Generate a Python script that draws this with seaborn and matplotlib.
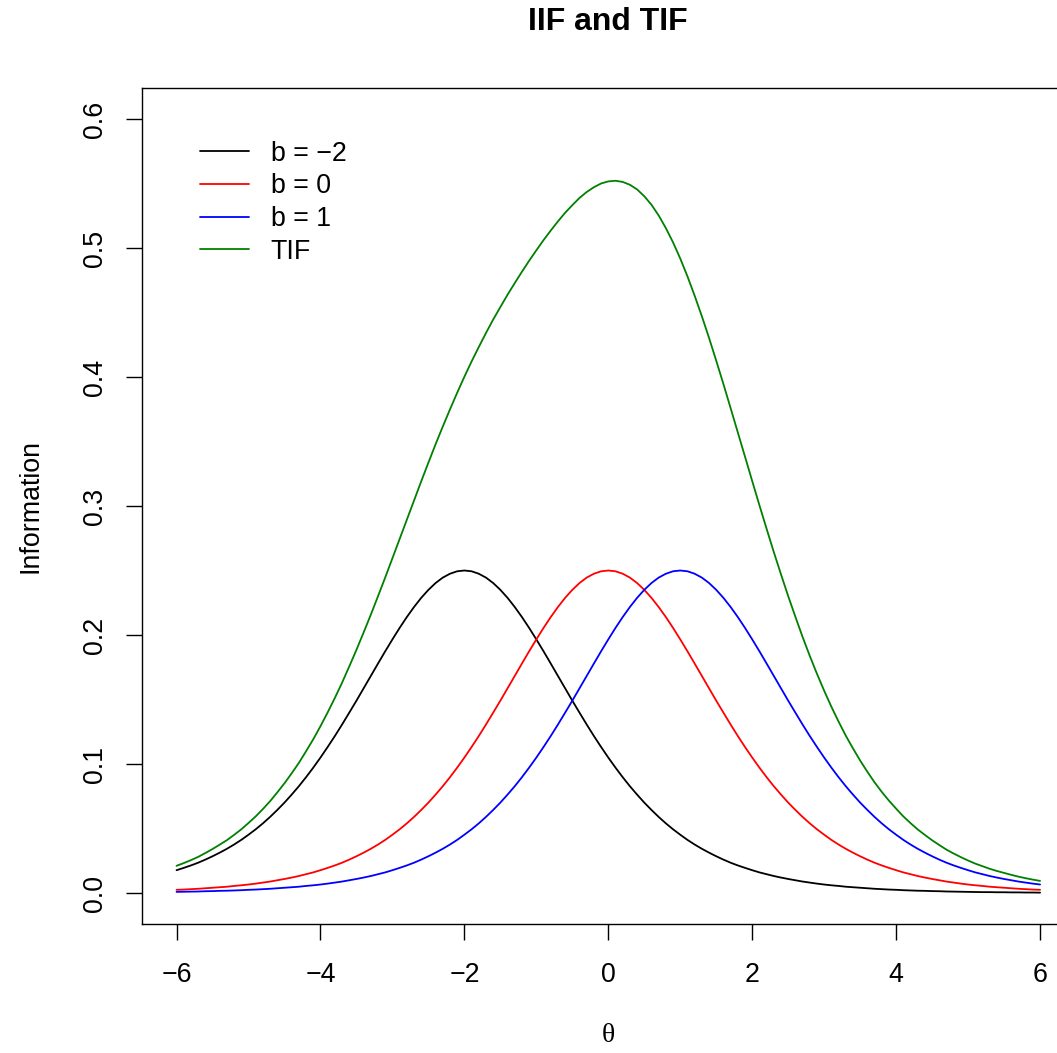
#!/usr/bin/env python3
# Item and test information functions (Rasch items b = -2, 0, 1)

import matplotlib
matplotlib.use("Agg")
import matplotlib.pyplot as plt
import seaborn as sns
import numpy as np
import pandas as pd

# theta grid, -6 to 6 in steps of 0.1
theta = np.round(np.linspace(-6, 6, 121), 1)

info_bm2 = [
    .0177, .0195, .0214, .0235, .0259, .0285, .0313, .0343, .0376, .0412,
    .0452, .0494, .0540, .0590, .0644, .0701, .0763, .0828, .0898, .0972,
    .1050, .1132, .1217, .1306, .1398, .1491, .1587, .1683, .1779, .1874,
    .1966, .2055, .2139, .2217, .2288, .2350, .2403, .2445, .2475, .2494,
    .2500,
    .2494, .2475, .2445, .2403, .2350, .2288, .2217, .2139, .2055, .1966,
    .1874, .1779, .1683, .1587, .1491, .1398, .1306, .1217, .1132, .1050,
    .0972, .0898, .0828, .0763, .0701, .0644, .0590, .0540, .0494, .0452,
    .0412, .0376, .0343, .0313, .0285, .0259, .0235, .0214, .0195, .0177,
    .0160, .0146, .0132, .0120, .0109, .0099, .0089, .0081, .0073, .0066,
    .0060, .0055, .0049, .0045, .0041, .0037, .0033, .0030, .0027, .0025,
    .0022, .0020, .0018, .0017, .0015, .0014, .0012, .0011, .0010, .0009,
    .0008, .0007, .0007, .0006, .0006, .0005, .0005, .0004, .0004, .0003]

info_b0 = [
    .0025, .0027, .0030, .0033, .0037, .0041, .0045, .0049, .0055, .0060,
    .0066, .0073, .0081, .0089, .0099, .0109, .0120, .0132, .0146, .0160,
    .0177, .0195, .0214, .0235, .0259, .0285, .0313, .0343, .0376, .0412,
    .0452, .0494, .0540, .0590, .0644, .0701, .0763, .0828, .0898, .0972,
    .1050, .1132, .1217, .1306, .1398, .1491, .1587, .1683, .1779, .1874,
    .1966, .2055, .2139, .2217, .2288, .2350, .2403, .2445, .2475, .2494,
    .2500,
    .2494, .2475, .2445, .2403, .2350, .2288, .2217, .2139, .2055, .1966,
    .1874, .1779, .1683, .1587, .1491, .1398, .1306, .1217, .1132, .1050,
    .0972, .0898, .0828, .0763, .0701, .0644, .0590, .0540, .0494, .0452,
    .0412, .0376, .0343, .0313, .0285, .0259, .0235, .0214, .0195, .0177,
    .0160, .0146, .0132, .0120, .0109, .0099, .0089, .0081, .0073, .0066,
    .0060, .0055, .0049, .0045, .0041, .0037, .0033, .0030, .0027, .0025]

info_b1 = [
    .0009, .0010, .0011, .0012, .0014, .0015, .0017, .0018, .0020, .0022,
    .0025, .0027, .0030, .0033, .0037, .0041, .0045, .0049, .0055, .0060,
    .0066, .0073, .0081, .0089, .0099, .0109, .0120, .0132, .0146, .0160,
    .0177, .0195, .0214, .0235, .0259, .0285, .0313, .0343, .0376, .0412,
    .0452, .0494, .0540, .0590, .0644, .0701, .0763, .0828, .0898, .0972,
    .1050, .1132, .1217, .1306, .1398, .1491, .1587, .1683, .1779, .1874,
    .1966, .2055, .2139, .2217, .2288, .2350, .2403, .2445, .2475, .2494,
    .2500,
    .2494, .2475, .2445, .2403, .2350, .2288, .2217, .2139, .2055, .1966,
    .1874, .1779, .1683, .1587, .1491, .1398, .1306, .1217, .1132, .1050,
    .0972, .0898, .0828, .0763, .0701, .0644, .0590, .0540, .0494, .0452,
    .0412, .0376, .0343, .0313, .0285, .0259, .0235, .0214, .0195, .0177,
    .0160, .0146, .0132, .0120, .0109, .0099, .0089, .0081, .0073, .0066]

info_tif = [
    .0211, .0232, .0255, .0280, .0310, .0341, .0375, .0410, .0451, .0494,
    .0543, .0594, .0651, .0712, .0780, .0851, .0928, .1009, .1099, .1192,
    .1293, .1400, .1512, .1630, .1756, .1885, .2020, .2158, .2301, .2446,
    .2595, .2744, .2893, .3042, .3191, .3336, .3479, .3616, .3749, .3878,
    .4002, .4120, .4232, .4341, .4445, .4542, .4638, .4728, .4816, .4901,
    .4982, .5061, .5135, .5206, .5273, .5332, .5388, .5434, .5471, .5500,
    .5516,
    .5521, .5512, .5490, .5454, .5401, .5335, .5252, .5154, .5043, .4918,
    .4780, .4630, .4471, .4303, .4126, .3945, .3758, .3570, .3382, .3193,
    .3006, .2823, .2643, .2470, .2301, .2141, .1985, .1838, .1699, .1568,
    .1444, .1329, .1220, .1121, .1027, .0940, .0858, .0784, .0716, .0654,
    .0594, .0542, .0493, .0450, .0409, .0372, .0336, .0306, .0278, .0252,
    .0228, .0208, .0188, .0171, .0156, .0141, .0127, .0115, .0104, .0094]

series_names = ["b = \u22122", "b = 0", "b = 1", "TIF"]
series_colors = ["black", "red", "blue", "green"]

x_ticks = [-6, -4, -2, 0, 2, 4, 6]
y_ticks = [0.0, 0.1, 0.2, 0.3, 0.4, 0.5, 0.6]

sns.set_theme(style="white")
plt.rcParams["font.family"] = ["Liberation Sans", "DejaVu Sans"]
plt.rcParams["text.color"] = "black"


def build_frame() -> pd.DataFrame:
    parts = []
    for name, vals in zip(series_names, [info_bm2, info_b0, info_b1, info_tif]):
        parts.append(pd.DataFrame({"theta": theta, "info": vals, "series": name}))
    return pd.concat(parts, ignore_index=True)


def main():
    df = build_frame()
    W, H = 1057, 1053
    fig = plt.figure(figsize=(W / 100, H / 100), dpi=100)
    left, right, top, bottom = 142, 1074.6, 88, 924
    ax = fig.add_axes([left / W, 1 - bottom / H, (right - left) / W, (bottom - top) / H])

    sns.lineplot(data=df, x="theta", y="info", hue="series", hue_order=series_names,
                 palette=series_colors, linewidth=1.3, ax=ax, sort=False)

    fs = 19.3
    ax.set_xlim(-6.48, 6.48)
    ax.set_ylim(-0.024, 0.624)
    ax.set_xticks(x_ticks)
    ax.set_xticklabels([str(t).replace("-", "\u2212") for t in x_ticks])
    ax.set_yticks(y_ticks)
    ax.set_yticklabels([f"{t:.1f}" for t in y_ticks], rotation=90, va="center")
    ax.tick_params(axis="both", direction="out", length=11.5, width=1.0,
                   labelsize=fs, colors="black", bottom=True, left=True)
    ax.tick_params(axis="x", pad=16)
    ax.tick_params(axis="y", pad=13)
    for sp in ax.spines.values():
        sp.set_color("black")
        sp.set_linewidth(1.0)
    ax.set_xlabel("")
    ax.set_ylabel("")

    handles, labels = ax.get_legend_handles_labels()
    ax.legend(handles, labels, loc="upper left", bbox_to_anchor=(0.062, 0.937),
              frameon=False, fontsize=fs, handlelength=1.85, handletextpad=0.8,
              labelspacing=0.25, borderpad=0, borderaxespad=0, labelcolor="black")

    cx = (left + right) / 2 / W
    fig.text(cx, 1 - 22 / H, "IIF and TIF", ha="center", va="center",
             fontsize=23, fontweight="bold")
    fig.text(cx, 1 - 1036 / H, "\u03b8", ha="center", va="center", fontsize=20,
             family=["Liberation Serif", "DejaVu Serif"])
    fig.text(30 / W, 1 - 506 / H, "Information", ha="center", va="center",
             rotation=90, fontsize=fs)

    fig.savefig("out.png", dpi=100)


if __name__ == "__main__":
    main()
